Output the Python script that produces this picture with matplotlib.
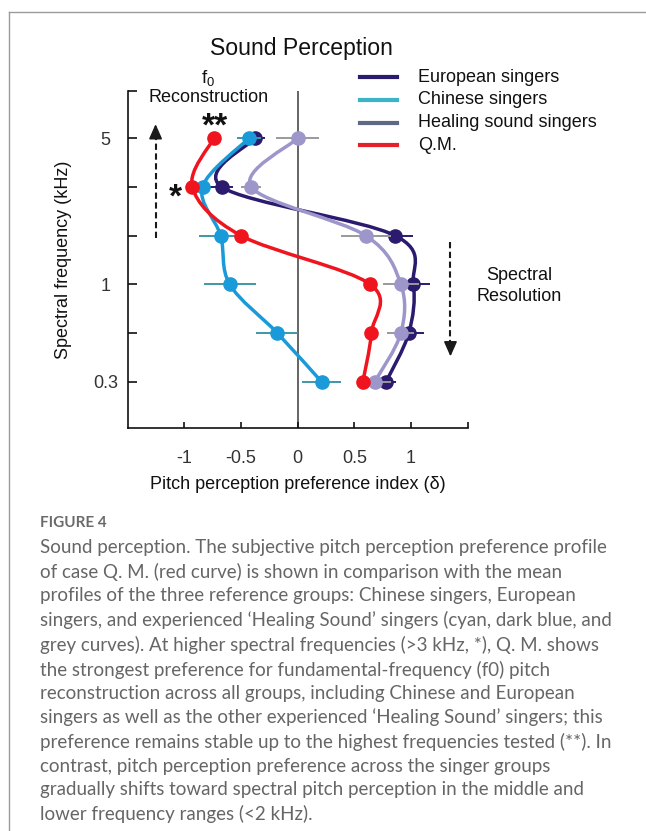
import numpy as np
import matplotlib.pyplot as plt
from matplotlib.path import Path
from matplotlib.patches import PathPatch
from matplotlib.lines import Line2D

plt.rcParams['font.family'] = ['Liberation Sans', 'DejaVu Sans']

# spectral bands, top (5 kHz) to bottom (0.3 kHz)
rotulos_y = ['5', '', '', '1', '', '0.3']
ticks_x = [-1, -0.5, 0, 0.5, 1, 1.5]
rotulos_x = ['-1', '-0.5', '0', '0.5', '1', '']

europeus = [-0.38, -0.67, 0.86, 1.02, 0.98, 0.78]
europeus_err = [0.09, 0.10, 0.16, 0.15, 0.13, 0.09]
healing = [0.0, -0.41, 0.60, 0.91, 0.91, 0.68]
healing_err = [0.19, 0.09, 0.22, 0.16, 0.12, 0.14]
chineses = [-0.43, -0.84, -0.68, -0.60, -0.18, 0.21]
chineses_err = [0.11, 0.06, 0.19, 0.23, 0.185, 0.17]
qm = [-0.74, -0.93, -0.50, 0.64, 0.65, 0.575]

nomes = ['European singers', 'Chinese singers', 'Healing sound singers', 'Q.M.']
cores_legenda = ['#2a1b6e', '#3cb4c8', '#5e6a85', '#e4202a']

legenda_caption = (
    "Sound perception. The subjective pitch perception preference profile\n"
    "of case Q. M. (red curve) is shown in comparison with the mean\n"
    "profiles of the three reference groups: Chinese singers, European\n"
    "singers, and experienced \u2018Healing Sound\u2019 singers (cyan, dark blue, and\n"
    "grey curves). At higher spectral frequencies (>3 kHz, *), Q. M. shows\n"
    "the strongest preference for fundamental-frequency (f0) pitch\n"
    "reconstruction across all groups, including Chinese and European\n"
    "singers as well as the other experienced \u2018Healing Sound\u2019 singers; this\n"
    "preference remains stable up to the highest frequencies tested (**). In\n"
    "contrast, pitch perception preference across the singer groups\n"
    "gradually shifts toward spectral pitch perception in the middle and\n"
    "lower frequency ranges (<2 kHz)."
)


def curva_suave(xs, ys):
    # catmull-rom through the points, as cubic bezier segments
    pts = np.column_stack([xs, ys]).astype(float)
    ext = np.vstack([pts[0], pts, pts[-1]])
    verts = [pts[0]]
    codes = [Path.MOVETO]
    for i in range(len(pts) - 1):
        p0, p1, p2, p3 = ext[i], ext[i + 1], ext[i + 2], ext[i + 3]
        verts += [p1 + (p2 - p0) / 6, p2 - (p3 - p1) / 6, p2]
        codes += [Path.CURVE4] * 3
    return Path(verts, codes)


W, H = 646, 831
fig = plt.figure(figsize=(W / 100, H / 100), dpi=100)

def fx(px):
    return px / W

def fy(py):
    return 1 - py / H

ax = fig.add_axes([fx(127.7), fy(428), 340 / W, 337 / H])
ax.set_xlim(-1.5, 1.5)
ax.set_ylim(5.95, -0.97)

y = np.arange(len(rotulos_y))

series = [
    (europeus, europeus_err, '#2b1a6d', '#2b1a6d'),
    (healing, healing_err, '#9d96cb', '#9a9a9a'),
    (chineses, chineses_err, '#1a9ad9', '#3f97a6'),
    (qm, None, '#f0141e', None),
]
z = 3
for vals, err, cor, cor_err in series:
    if err is not None:
        ax.errorbar(vals, y, xerr=err, fmt='none', ecolor=cor_err,
                    elinewidth=1.4, capsize=0, zorder=z)
    ax.add_patch(PathPatch(curva_suave(vals, y), facecolor='none',
                           edgecolor=cor, lw=2.5, zorder=z + 1,
                           capstyle='round', joinstyle='round'))
    ax.plot(vals, y, 'o', color=cor, markersize=9.5, zorder=z + 2)
    z += 3

# zero line
ax.axvline(0, color='#3a3a3a', lw=1.1, zorder=1)

for s in ['top', 'right']:
    ax.spines[s].set_visible(False)
for s in ['left', 'bottom']:
    ax.spines[s].set_linewidth(1.2)
    ax.spines[s].set_color('#111111')

ax.set_yticks([-0.97] + list(y))
ax.set_yticklabels([''] + rotulos_y, ha='center')
ax.set_xticks(ticks_x)
ax.set_xticklabels(rotulos_x)
ax.tick_params(axis='y', direction='in', length=6.5, width=1.2, pad=16,
               labelsize=13, colors='#111111', labelcolor='#333333')
ax.tick_params(axis='x', direction='in', length=4.5, width=1.2, pad=16,
               labelsize=13, colors='#111111', labelcolor='#333333')
ax.set_xlabel('Pitch perception preference index (\u03b4)', fontsize=13,
              color='#111111', labelpad=6)
ax.set_ylabel('Spectral frequency (kHz)', fontsize=13, color='#111111')
ax.yaxis.set_label_coords((71.7 - 127.7) / 340, 0.5)

# direction arrows
for x0, y_ini, y_fim in [(-1.254, 2.05, -0.29), (1.348, 2.14, 4.48)]:
    sentido = np.sign(y_fim - y_ini)
    ax.plot([x0, x0], [y_ini, y_fim - 0.25 * sentido], ls=(0, (3, 1.7)),
            color='#1a1a1a', lw=1.5, clip_on=False)
    ax.annotate('', xy=(x0, y_fim), xytext=(x0, y_fim - 0.3 * sentido),
                arrowprops=dict(arrowstyle='-|>,head_length=0.9,head_width=0.4',
                                color='#1a1a1a', lw=1.2, shrinkA=0, shrinkB=0),
                annotation_clip=False)

fig.text(fx(301), fy(48), 'Sound Perception', fontsize=16.6, ha='center',
         va='center', color='#111111')
fig.text(fx(208), fy(78), r'$\mathregular{f_0}$', fontsize=13.5, ha='center',
         va='center', color='#111111')
fig.text(fx(209), fy(97), 'Reconstruction', fontsize=13, ha='center',
         va='center', color='#111111')
fig.text(fx(519), fy(286), 'Spectral\nResolution', fontsize=13, ha='center',
         va='center', color='#111111', linespacing=1.25)
fig.text(fx(215), fy(127), '**', fontsize=24, fontweight='bold', ha='center',
         va='center', color='#111111')
fig.text(fx(175.7), fy(198), '*', fontsize=24, fontweight='bold', ha='center',
         va='center', color='#111111')

# legend drawn by hand
for i, (nome, cor) in enumerate(zip(nomes, cores_legenda)):
    py = 77.3 + i * 22.6
    fig.add_artist(Line2D([fx(360), fx(397)], [fy(py), fy(py)], color=cor, lw=3))
    fig.text(fx(418), fy(py), nome, fontsize=13, va='center', color='#111111')

# frame and caption
fig.add_artist(Line2D([fx(9), fx(9)], [fy(12), 0], color='#9a9a9a', lw=1))
fig.add_artist(Line2D([fx(9), 1], [fy(12), fy(12)], color='#9a9a9a', lw=1))
fig.text(fx(40), fy(523), 'FIGURE 4', fontsize=11, fontweight='bold',
         family=['Lato', 'DejaVu Sans'], color='#6a6a6a', va='center')
fig.text(fx(40), fy(539), legenda_caption, fontsize=13.5,
         family=['Lato', 'DejaVu Sans'], color='#666666', va='top',
         linespacing=1.45)

fig.savefig('out.png', dpi=100)
